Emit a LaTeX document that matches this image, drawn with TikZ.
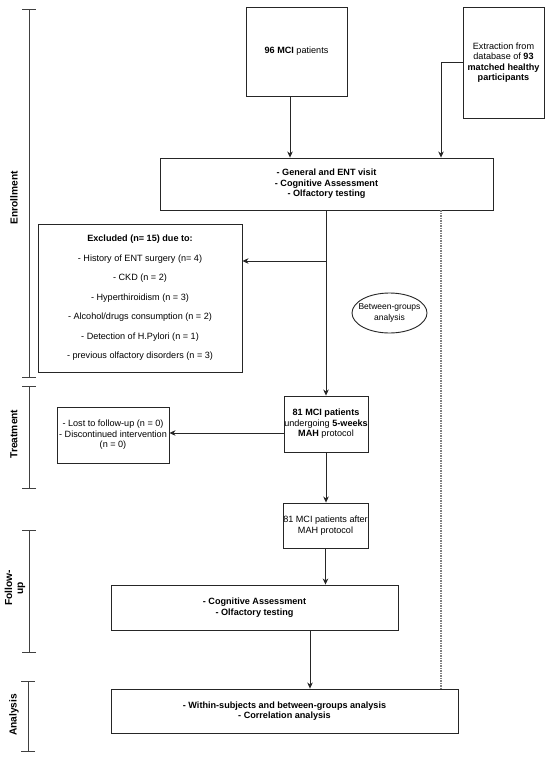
\documentclass[tikz,border=0pt]{standalone}
\usepackage{fontspec}
\setmainfont{Liberation Sans}
\usetikzlibrary{arrows.meta,shapes.geometric}
\begin{document}
\begin{tikzpicture}[x=1pt,y=-1pt,
  box/.style={draw=black!85, line width=0.9pt, fill=white, inner sep=0pt, align=center, font=\fontsize{9.1}{10.5}\selectfont},
  bbox/.style={box, font=\bfseries\fontsize{9.1}{10.5}\selectfont},
  arr/.style={-{Stealth[length=6pt,width=5.5pt,inset=1.8pt]}, line width=0.8pt, draw=black!85},
  bracket/.style={line width=0.9pt, draw=black!75, {Bar[width=14pt]}-{Bar[width=14pt]}},
  side/.style={rotate=90, align=center, font=\bfseries\fontsize{10.2}{11.2}\selectfont, inner sep=0pt}]
\useasboundingbox[fill=white] (0,0) rectangle (550,760);

% phase brackets
\draw[bracket] (29,9) -- (29,378);
\draw[bracket] (29,386) -- (29,489);
\draw[bracket] (29,530) -- (29,653);
\draw[bracket] (28,681) -- (28,752);
\node[side] (lenr) at (14,198) {Enrollment};
\node[side] (ltre) at (14,434) {Treatment};
\node[side] (lfol) at (15,588) {Follow-\\up};
\node[side] (lana) at (14,715) {Analysis};

% boxes
\node[box, minimum width=101, minimum height=89] (box1) at (296.5,51.5) {\textbf{96 MCI} patients};
\node[box, minimum width=81, minimum height=111] (box2) at (503.5,62.5) {Extraction from\\database of \textbf{93}\\\textbf{matched healthy}\\\textbf{participants}};
\node[bbox, minimum width=333, minimum height=52] (main) at (326.5,184) {- General and ENT visit\\- Cognitive Assessment\\- Olfactory testing};
\node[box, minimum width=204, minimum height=148, font=\fontsize{9.1}{19.5}\selectfont] (excl) at (140,298) {\textbf{Excluded (n= 15) due to:}\\- History of ENT surgery (n= 4)\\- CKD (n = 2)\\- Hyperthiroidism (n = 3)\\- Alcohol/drugs consumption (n = 2)\\- Detection of H.Pylori (n = 1)\\- previous olfactory disorders (n = 3)};
\draw[draw=black!85, line width=0.9pt] (389.5,313) ellipse [x radius=37.5, y radius=20];
\node[box, draw=none, fill=none, font=\fontsize{8.5}{11}\selectfont] (betw) at (389.5,313) {Between-groups\\analysis};
\node[box, minimum width=84, minimum height=56] (mci) at (326,424) {\textbf{81 MCI patients}\\undergoing \textbf{5-weeks}\\\textbf{MAH} protocol};
\node[box, minimum width=112, minimum height=56] (lost) at (113,435) {- Lost to follow-up (n = 0)\\- Discontinued intervention\\(n = 0)};
\node[box, minimum width=85, minimum height=45] (after) at (325.5,525.5) {81 MCI patients after\\MAH protocol};
\node[bbox, minimum width=287, minimum height=45] (follow) at (254.5,607.5) {- Cognitive Assessment\\- Olfactory testing};
\node[bbox, minimum width=347, minimum height=44] (anal) at (284.5,711) {- Within-subjects and between-groups analysis\\- Correlation analysis};

% connectors
\draw[arr] ([xshift=-6.5pt]box1.south) -- ([xshift=-6.5pt]box1.south |- main.north);
\draw[arr] (box2.west) -| ([xshift=114.5pt]main.north);
\draw[arr] (main.south -| mci.north) -- (mci.north);
\draw[arr] ([yshift=37pt]excl.east -| mci.north) -- ([yshift=37pt]excl.east);
\draw[arr] ([yshift=-9pt]mci.west) -- ([yshift=-9pt]mci.west -| lost.east);
\draw[arr] (mci.south) -- (mci.south |- after.north);
\draw[arr] (after.south) -- (after.south |- follow.north);
\draw[arr] ([xshift=55.5pt]follow.south) -- ([xshift=55.5pt]follow.south |- anal.north);
\draw[line width=1.1pt, draw=black!50, dash pattern=on 1.1pt off 1.4pt] ([xshift=114.5pt]main.south) -- ([xshift=114.5pt]main.south |- anal.north);
\end{tikzpicture}
\end{document}
